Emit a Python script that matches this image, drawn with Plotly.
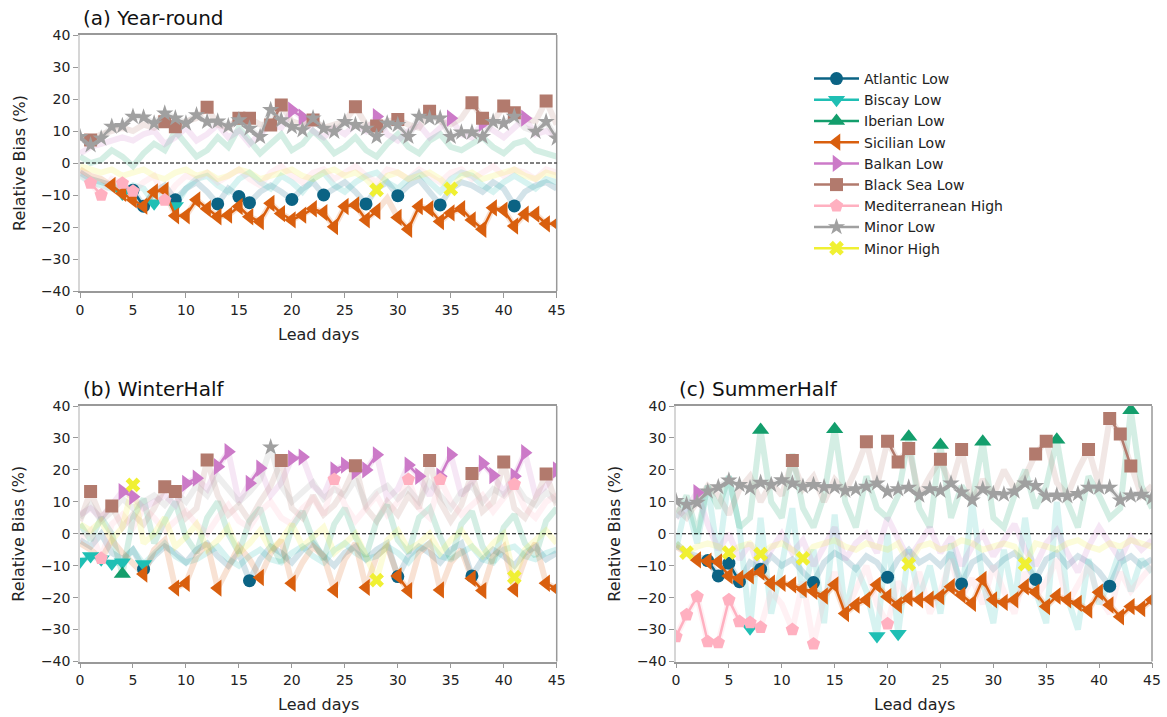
import plotly.graph_objects as go

days = list(range(46))

series_names = ["Atlantic Low", "Biscay Low", "Iberian Low", "Sicilian Low", "Balkan Low",
                "Black Sea Low", "Mediterranean High", "Minor Low", "Minor High"]
series_colors = ["#0b6384", "#1fbfb4", "#139e6c", "#d95f0e", "#cc7ac8",
                 "#b27a6d", "#ffb0c0", "#a0a0a0", "#f0f032"]
series_symbols = ["circle", "triangle-down", "triangle-up", "triangle-left", "triangle-right",
                  "square", "pentagon", "star", "x"]
series_sizes = [13, 15, 15, 15, 15, 13, 14, 13, 13]

panel_titles = ["(a) Year-round", "(b) WinterHalf", "(c) SummerHalf"]

# ---------------- (a) Year-round ----------------
a_atl = [-3,-5,-6,-7,-8,-8.5,-13.5,-9,-7,-11.5,-8,-6,-9,-12.8,-8,-10.5,-12.4,-9,-7,-9,-11.4,-8,-6,-10,-8,-6,-9,-12.8,-8,-6,-10.2,-7,-5,-9,-13.1,-8,-6,-7,-9,-6,-8,-13.4,-9,-7,-6,-8]
a_bis = [-4,-6,-7,-8,-9.5,-7,-8,-12.6,-9,-13.4,-8,-5,-4,-7,-9,-5,-3,-6,-8,-4,-6,-9,-5,-3,-7,-9,-6,-4,-3,-6,-8,-5,-3,-6,-9,-5,-3,-4,-7,-9,-6,-4,-6,-8,-5,-6]
a_ibe = [2,0,1,4,2,-1,3,6,4,10,6,2,4,8,5,11,7,3,6,9,4,6,10,7,3,5,8,4,2,6,9,5,3,7,9,5,4,6,8,5,3,6,7,4,3,2]
a_sic = [-2,-4,-5,-7,-9.5,-11.5,-13.5,-9,-8.5,-16.5,-16.5,-11.5,-14.3,-16.8,-16.3,-13.6,-16.8,-18.3,-12.6,-15.8,-17.8,-16.3,-14.3,-15.5,-19.9,-13.6,-13.1,-17.8,-15,-11,-17,-20.7,-13.6,-14.3,-18.3,-15.6,-14.3,-17.8,-20.7,-14,-14.7,-19.7,-16,-16,-19,-19]
a_bal = [3,5,6,7,8,7,9,10,6,8,11,7,9,12,8,10,6,9,12,11,16.5,14.3,10,8,11,9,12,10,14.5,9,7,10,12,8,11,14,9,8,12.4,10,8,11,14,9,10,8]
a_bla = [8,7.2,9,10,11,10,12,11,12.9,11.3,13,14,17.4,12,11,14,14,12,11.9,18.1,13,12,13.4,11,12,13,17.6,12,11.6,13,13.6,12,11,16.2,13,12,14,18.8,14,13,17.8,15.7,14,13,19.4,12]
a_med = [-3,-6.3,-10,-5,-6.3,-8.8,-6,-4,-11.6,-7,-4,-5,-3,-6,-4,-2,-5,-7,-3,-1,-4,-6,-3,-2,-5,-3,-1,-4,-6,-2,-3,-5,-2,-4,-6,-3,-2,-5,-3,-1,-4,-2,-3,-5,-2,-3]
a_mlo = [8.2,5.6,7.7,11.4,11.6,14.5,14.3,12.4,15.5,14,12.4,15,12.9,13,11.5,13.4,10.8,8.2,16.6,13.4,11.3,10.3,14,10.8,9.8,12.9,11.9,10.8,8.2,12.4,11.9,8.2,14.5,14,14,8.2,9.6,9.6,8.2,12.9,12.4,14.5,11,9.8,12.9,7.7]
a_mhi = [-1,-2,-3,-2,-4,-3,-2,-4,-5,-3,-2,-4,-3,-5,-4,-2,-3,-5,-4,-3,-2,-4,-5,-3,-2,-4,-3,-5,-8.4,-4,-3,-5,-4,-3,-5,-8.1,-4,-3,-5,-4,-3,-2,-4,-5,-3,-4]

a_sig_atl = [5,6,9,13,15,16,20,23,27,30,34,41]
a_sig_bis = [4,7,9]
a_sig_ibe = []
a_sig_sic = list(range(3, 29)) + list(range(30, 46))
a_sig_bal = [20,21,28,35,38,42]
a_sig_bla = [1,8,9,12,15,16,18,19,22,26,28,30,33,37,38,40,41,44]
a_sig_med = [1,2,4,5,8]
a_sig_mlo = list(range(0, 42)) + [43,44,45]
a_sig_mhi = [28,35]

# ---------------- (b) WinterHalf ----------------
b_atl = [-2,-4,0,-6,-8,-5,-11.1,-7,-4,-6,-9,-5,-3,-7,-10,-6,-14.7,-8,-4,-6,-9,-5,-3,-7,-10,-6,-4,-8,-5,-3,-13.4,-7,-4,-6,-9,-5,-3,-13.2,-8,-5,-7,-10,-6,-4,-8,-6]
b_bis = [-8.7,-7,-8,-9.3,-8.9,-5,-9.5,-6,-3,-7,-9,-8,-6,-4,-8,-10,-7,-5,-8,-9,-6,-4,-7,-9,-5,-3,-6,-8,-7,-4,-6,-9,-5,-3,-7,-8,-6,-4,-8,-9,-5,-4,-7,-8,-6,-5]
b_ibe = [3,-2,5,0,-12.6,5,11,-3,4,10,-1,-6,5,10,0,-6,4,8,-3,-9,2,7,-2,-8,3,8,-1,-7,4,9,-2,-6,5,8,-1,-8,3,7,-4,-9,2,6,-3,-7,4,8]
b_sic = [-3,-5,-8,-2,-6,-9,-12.6,-5,-2,-17,-15.5,-7,-3,-17,-10,-4,-8,-13.7,-6,-2,-15.5,-9,-4,-7,-17.6,-8,-3,-16.8,-7,-4,-13.2,-17.8,-6,-3,-17.6,-9,-5,-14,-17.8,-7,-4,-17.3,-8,-3,-15.5,-17.2]
b_bal = [6,8,5,9,13.2,11.6,8,10,12,9,15.8,17.4,14,21,25.7,10,15.8,20.5,12,16,23.6,24,15,12,20,21.5,19.5,20,24.7,11,14,21.5,18,12,18,24.7,12,16,22,18.2,13,18,25.4,12,15,20]
b_bla = [4,13.2,5,8.7,2,6,3,8,14.7,13.2,5,8,23.1,12,6,9,4,10,15,22.9,8,5,12,6,9,14,21.3,8,4,10,6,12,8,22.9,10,4,9,18.9,7,10,22.5,8,5,11,18.7,9]
b_med = [-2,1,-7.7,3,6,2,8,5,1,4,7,3,0,5,9,4,2,7,10,5,3,8,11,6,17,9,4,8,12,6,10,17,8,5,17,10,6,9,12,7,11,15.5,8,5,10,12]
b_mlo = [5,9,4,7,11,8,10,12,9,13,10,15,12,18,14,10,13,17,27.1,15,10,13,16,11,14,12,17,9,13,15,11,14,10,16,12,8,13,15,10,14,12,16,11,9,13,10]
b_mhi = [3,1,4,-2,2,15.3,-3,0,5,-4,-1,3,-5,-2,2,-6,-3,1,-5,-2,3,-4,-1,2,-6,-3,0,-7,-14.5,-2,1,-5,-3,0,-6,-2,1,-4,-7,-3,0,-13.6,-5,-2,1,-3]

b_sig_atl = [6,16,30,37]
b_sig_bis = [0,1,2,3,4,6]
b_sig_ibe = [4]
b_sig_sic = [6,9,10,13,17,20,24,27,30,31,34,37,38,41,44,45]
b_sig_bal = [4,5,10,11,13,14,16,17,20,21,24,25,26,27,28,31,32,34,35,38,39,41,42,45]
b_sig_bla = [1,3,8,9,12,19,26,33,37,40,44]
b_sig_med = [2,24,31,34,41]
b_sig_mlo = [18]
b_sig_mhi = [5,28,41]

# ---------------- (c) SummerHalf ----------------
c_atl = [-3,-6,-7,-8.4,-13.2,-9.2,-15,-9,-11.1,-7,-10,-8,-12,-15.3,-9,-6,-8,-11,-7,-9,-13.6,-8,-5,-9,-7,-10,-6,-15.7,-9,-7,-11,-8,-6,-9,-14.3,-8,-6,-10,-7,-9,-12,-16.4,-9,-7,-10,-8]
c_bis = [-5,10,-3,15,-8,18,2,-29.6,5,-25,-10,8,-20,-5,-28,6,-25,-10,-18,-32,0,-31.3,-5,-20,-10,-25,-3,-20,10,-15,-28,-5,-22,5,-18,-28,10,-20,-30,-8,-22,-15,-5,-18,-8,-12]
c_ibe = [5,12,0,15,8,18,2,5,32.5,10,5,25,8,2,12,32.7,10,2,18,8,5,12,30.4,8,2,27.8,5,15,10,28.8,5,2,12,20,8,15,29.4,10,2,18,12,5,8,38.7,15,8]
c_sic = [-4,-6,-8.2,-8.6,-8.8,-13.2,-14,-13.2,-12,-15.5,-15.5,-16,-17.4,-18,-19.5,-16,-25,-22.3,-20.7,-16,-19.7,-22.3,-20.2,-20.7,-20.5,-19.7,-16.6,-19.2,-21.8,-14.3,-20.7,-21.5,-20.7,-16.6,-18.3,-22.8,-19.5,-20.7,-21.8,-23.9,-18.3,-22.3,-26,-22.8,-23.4,-20.7]
c_bal = [5,8,12.9,3,-5,0,-8,-3,-12,-5,0,-6,-2,-10,-4,2,-8,-3,0,-6,5,-2,-8,-3,2,-6,-1,-10,-4,0,-7,-2,3,-5,-10,-3,1,-6,-12,-4,2,-3,-8,-1,-5,-2]
c_bla = [8,5,10,15,12,6,14,18,10,16,12,22.9,14,18,10,17,13,20,28.8,15,29,22.5,26.7,12,18,23.3,15,26.4,10,17,12,20,14,18,25,29,16,12,20,26.4,15,36.1,31.2,21.2,12,15]
c_med = [-32.2,-25.4,-19.7,-33.8,-34.1,-20.7,-27.5,-27.8,-29.3,-18,-22,-30,-15,-34.5,-20,-12,-25,-18,-10,-22,-28.2,-15,-20,-12,-25,-18,-8,-20,-14,-22,-10,-18,-25,-12,-20,-15,-8,-22,-16,-10,-20,-25,-12,-18,-14,-10]
c_mlo = [10.3,9.1,9.8,13.3,14.6,16.7,15.3,14.3,16,15.3,16.8,15.8,14.8,15.3,14.6,14.6,13.5,14,14.8,15.8,13.2,14,14.5,12,14,13.5,15.8,13,10.5,14,12.5,12.3,13.3,15.8,15,11.8,12,11.8,12.5,14.5,14.5,14.5,10.5,12,12.3,11.3]
c_mhi = [-3,-5.9,-4,-3,-4,-5.9,-4,-3,-6.4,-4,-3,-5,-7.7,-4,-3,-2,-4,-5,-3,-4,-5,-3,-9.5,-4,-3,-5,-4,-2,-3,-5,-4,-3,-4,-9.5,-3,-4,-5,-3,-2,-4,-5,-3,-4,-2,-3,-4]

c_sig_atl = [3,4,5,6,8,13,20,27,34,41]
c_sig_bis = [7,19,21]
c_sig_ibe = [8,15,22,25,29,36,43]
c_sig_sic = list(range(2, 46))
c_sig_bal = [2]
c_sig_bla = [11,18,20,21,22,25,27,34,35,39,41,42,43]
c_sig_med = [0,1,2,3,4,5,6,7,8,11,13,20]
c_sig_mlo = list(range(0, 46))
c_sig_mhi = [1,5,8,12,22,33]

panel_values = [
    [a_atl, a_bis, a_ibe, a_sic, a_bal, a_bla, a_med, a_mlo, a_mhi],
    [b_atl, b_bis, b_ibe, b_sic, b_bal, b_bla, b_med, b_mlo, b_mhi],
    [c_atl, c_bis, c_ibe, c_sic, c_bal, c_bla, c_med, c_mlo, c_mhi],
]
panel_sig = [
    [a_sig_atl, a_sig_bis, a_sig_ibe, a_sig_sic, a_sig_bal, a_sig_bla, a_sig_med, a_sig_mlo, a_sig_mhi],
    [b_sig_atl, b_sig_bis, b_sig_ibe, b_sig_sic, b_sig_bal, b_sig_bla, b_sig_med, b_sig_mlo, b_sig_mhi],
    [c_sig_atl, c_sig_bis, c_sig_ibe, c_sig_sic, c_sig_bal, c_sig_bla, c_sig_med, c_sig_mlo, c_sig_mhi],
]

y_tickvals = [-40, -30, -20, -10, 0, 10, 20, 30, 40]
y_ticktext = ["\u221240", "\u221230", "\u221220", "\u221210", "0", "10", "20", "30", "40"]
x_tickvals = [0, 5, 10, 15, 20, 25, 30, 35, 40, 45]

W, H = 1167, 717
FONT = "DejaVu Sans"


def hex_rgba(h, a):
    h = h.lstrip("#")
    r, g, b = int(h[0:2], 16), int(h[2:4], 16), int(h[4:6], 16)
    return f"rgba({r},{g},{b},{a})"


# panel pixel boxes: (left, right, top, bottom)
boxes = [(80, 556.7, 35, 291), (80, 556.7, 406, 661.5), (676, 1152, 406, 661.5)]

fig = go.Figure()
axis_ids = ["", "2", "3"]

for p in range(3):
    xa = "x" + axis_ids[p]
    ya = "y" + axis_ids[p]
    vals = panel_values[p]
    sigs = panel_sig[p]
    # faint full-length lines
    for s in range(9):
        fig.add_trace(go.Scatter(
            x=days, y=vals[s], mode="lines", xaxis=xa, yaxis=ya,
            line=dict(color=hex_rgba(series_colors[s], 0.18), width=6),
            showlegend=False, hoverinfo="skip"))
    # significant points
    for s in range(9):
        sig_set = set(sigs[s])
        ys = [v if d in sig_set else None for d, v in zip(days, vals[s])]
        fig.add_trace(go.Scatter(
            x=days, y=ys, mode="lines+markers", xaxis=xa, yaxis=ya,
            connectgaps=False, name=series_names[s],
            line=dict(color=series_colors[s], width=2.5),
            marker=dict(symbol=series_symbols[s], size=series_sizes[s],
                        color=series_colors[s], line=dict(width=0)),
            showlegend=(p == 2), hoverinfo="skip"))

layout = dict(
    width=W, height=H,
    margin=dict(l=0, r=0, t=0, b=0, autoexpand=False),
    paper_bgcolor="white", plot_bgcolor="white",
    font=dict(family=FONT, size=14, color="#222222"),
    legend=dict(x=809 / W, y=1 - 63 / H, xanchor="left", yanchor="top",
                font=dict(size=14, family=FONT, color="#222222"),
                tracegroupgap=0, itemwidth=45, bgcolor="rgba(0,0,0,0)"),
    shapes=[], annotations=[],
)

for p in range(3):
    l, r, t, b = boxes[p]
    xk = "xaxis" + axis_ids[p]
    yk = "yaxis" + axis_ids[p]
    layout[xk] = dict(
        domain=[l / W, r / W], range=[0, 45], anchor="y" + axis_ids[p], automargin=False,
        tickvals=x_tickvals, ticks="outside", ticklen=5, tickwidth=1.2, tickcolor="#999999",
        showline=True, linecolor="#999999", linewidth=1.5, mirror=True,
        showgrid=False, zeroline=False, tickfont=dict(size=14, color="#222222"))
    layout[yk] = dict(
        domain=[1 - b / H, 1 - t / H], range=[-40, 40], anchor="x" + axis_ids[p], automargin=False,
        tickvals=y_tickvals, ticktext=y_ticktext, ticks="outside", ticklen=5, tickwidth=1.2,
        tickcolor="#999999", showline=True, linecolor="#d6d6d6", linewidth=1.5,
        showgrid=False, zeroline=False, tickfont=dict(size=14, color="#222222"))
    # right spine
    layout["shapes"].append(dict(type="line", xref="x" + axis_ids[p] + " domain", yref="y" + axis_ids[p] + " domain",
                                 x0=1, x1=1, y0=0, y1=1, line=dict(color="#999999", width=1.5), layer="above"))
    # zero dashed line
    layout["shapes"].append(dict(type="line", xref="x" + axis_ids[p] + " domain", yref="y" + axis_ids[p],
                                 x0=0, x1=1, y0=0, y1=0, line=dict(color="black", width=1, dash="4px,2px"),
                                 layer="above"))
    # panel title
    layout["annotations"].append(dict(text=panel_titles[p], xref="paper", yref="paper",
                                      x=(l + 1) / W, y=1 - (t - 17) / H, xanchor="left", yanchor="middle",
                                      showarrow=False, font=dict(size=20, family=FONT, color="#111111")))
    # y title
    layout["annotations"].append(dict(text="Relative Bias (%)", xref="paper", yref="paper",
                                      x=(l - 61) / W, y=1 - ((t + b) / 2) / H, xanchor="center", yanchor="middle",
                                      textangle=-90, showarrow=False,
                                      font=dict(size=16, family=FONT, color="#222222")))
    # x title
    layout["annotations"].append(dict(text="Lead days", xref="paper", yref="paper",
                                      x=((l + r) / 2) / W, y=1 - (b + 43) / H, xanchor="center", yanchor="middle",
                                      showarrow=False, font=dict(size=16, family=FONT, color="#222222")))

fig.update_layout(**layout)
fig.write_html("out.html")
